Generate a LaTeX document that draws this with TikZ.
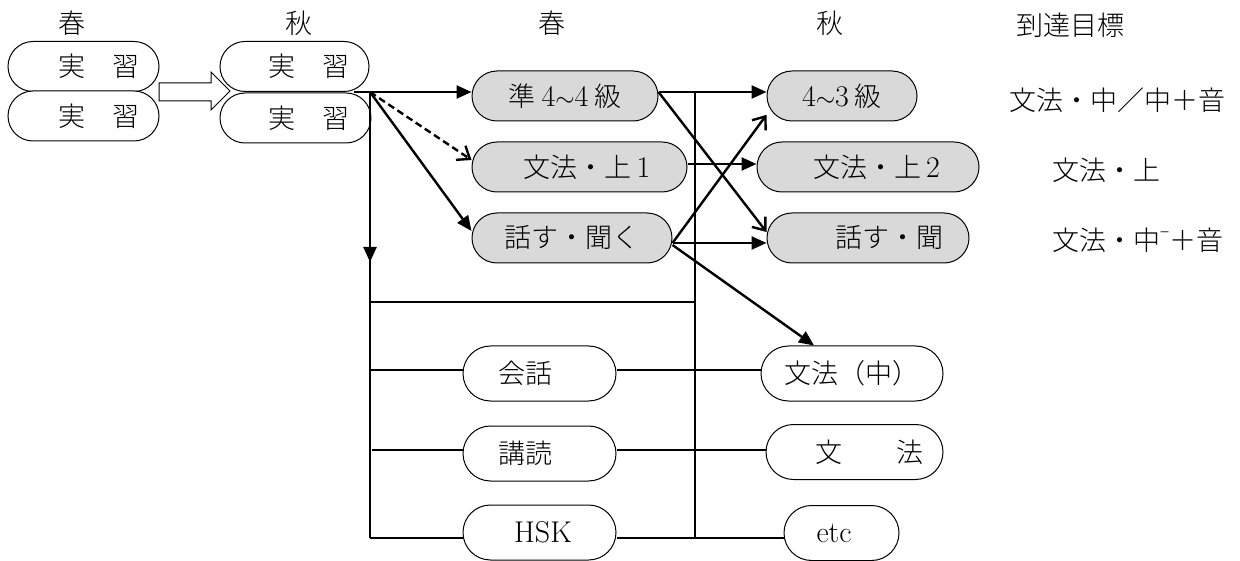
\documentclass[tikz,border=0pt]{standalone}
\usepackage{fontspec}
\newfontfamily\cjk{Noto Sans CJK JP Light}
\newcommand\lat[1]{{\rmfamily\fontsize{30}{30}\selectfont #1}}
\usetikzlibrary{arrows.meta,calc}
\begin{document}
\begin{tikzpicture}[x=1pt,y=-1pt,
  every node/.style={font=\cjk\fontsize{27}{30}\selectfont, inner sep=0pt},
  wbox/.style={draw, line width=1pt, fill=white, rectangle, rounded corners=25pt, minimum height=50pt},
  gbox/.style={wbox, fill=boxgray},
  lbox/.style={draw, line width=1pt, fill=white, rectangle, rounded corners=27.5pt, minimum height=55pt},
  thickln/.style={line width=2.4pt},
  midln/.style={line width=1.6pt},
  filled/.style={-{Triangle[length=15pt,width=13pt]}},
  openhd/.style={-{Straight Barb[length=11pt,width=17pt]}},
  dashln/.style={dash pattern=on 7pt off 4pt}
]
\definecolor{boxgray}{HTML}{D9D9D9}
\useasboundingbox (0,0) rectangle (1240,561);

% headers
\node (h1) at (72,23) {春};
\node (h2) at (299,23) {秋};
\node (h3) at (552,23) {春};
\node (h4) at (830,23) {秋};
\node (h5) at (1070,25) {到達目標};

% spring / autumn practice boxes
\node[wbox, minimum width=151pt] (sp1) at (83.5,66.5) {\hspace*{30pt}実　習};
\node[wbox, minimum width=151pt] (sp2) at (83.5,116) {\hspace*{30pt}実　習};
\node[wbox, minimum width=149pt] (au1) at (294.5,66.5) {\hspace*{28pt}実　習};
\node[wbox, minimum width=151pt] (au2) at (295.5,118) {\hspace*{27pt}実　習};

% block arrow
\draw[line width=1pt, fill=white] (159,83) -- (211,83) -- (211,72) -- (230,91) -- (211,110) -- (211,101) -- (159,101) -- cycle;

% grey boxes
\node[gbox, minimum width=186pt] (jun) at (565,96) {準\hspace{6pt}\lat{4${\sim}$4}\hspace{6pt}級};
\node[gbox, minimum width=215pt] (bun1) at (579.5,167) {\hspace*{15pt}文法・上\hspace{5pt}\lat{1}};
\node[gbox, minimum width=200pt] (hanasu) at (572,238) {話す・聞く};
\node[gbox, minimum width=150pt] (yon) at (842,96) {\lat{4${\sim}$3}\hspace{6pt}級};
\node[gbox, minimum width=222pt] (bun2) at (868,167) {\hspace*{17pt}文法・上\hspace{5pt}\lat{2}};
\node[gbox, minimum width=202pt] (hanasu2) at (868,238) {\hspace*{42pt}話す・聞};

% lower boxes
\node[lbox, minimum width=153pt] (kaiwa) at (539.5,373.5) {会話\hspace*{29pt}};
\node[lbox, minimum width=153pt] (koudoku) at (539.5,453.5) {講読\hspace*{29pt}};
\node[lbox, minimum width=153pt] (hsk) at (539.5,532.5) {\hspace*{7pt}\lat{HSK}};
\node[lbox, minimum width=182pt] (bunchu) at (852,373.5) {文法（中）};
\node[lbox, minimum width=177pt] (bunpo) at (854.5,452) {\hspace*{29pt}文　　法};
\node[lbox, minimum width=115pt] (etcbox) at (841.5,533) {\lat{etc}\hspace*{15pt}};

% goals
\node (g1) at (1117.5,100) {文法・中／中＋音};
\node[anchor=west] (g2) at (1052,170) {文法・上};
\node[anchor=west] (g3) at (1052,240) {文法・中\raisebox{0.45em}{\fontsize{17}{17}\selectfont −}＋音};

% coordinates of bus lines
\coordinate (aust) at (354,92);
\coordinate (br) at (370,92);
\coordinate (bdown) at (370,262);
\coordinate (bbot) at (370,538);
\coordinate (vtop) at (695,93);
\coordinate (vbot) at (695,538);
\coordinate (hl) at (370,302);
\coordinate (hr) at (695,302);
\coordinate (l1) at (370,370);
\coordinate (l2) at (372,450);

% left bus
\draw[thickln] (br) -- (bbot);
\draw[thickln, filled] (br) -- (bdown);
\draw[thickln, filled] (aust) -- (jun.west |- br);
\draw[thickln, dashln, openhd] (br) -- ([yshift=7pt]bun1.west);
\draw[thickln, filled] (br) -- ([yshift=7pt]hanasu.west);

% right thin bus
\draw[midln] (vtop) -- (vbot);
\draw[midln] (hl) -- (hr);

% cross arrows
\draw[thickln, filled] ([yshift=4pt]jun.east) -- ([yshift=4pt]yon.west);
\draw[thickln, openhd] ([yshift=4pt]jun.east) -- ([yshift=6pt]hanasu2.west);
\draw[thickln, filled] ([yshift=3pt]bun1.east) -- ([yshift=3pt]bun2.west);
\draw[thickln, openhd] ([yshift=-5pt]hanasu.east) -- (yon.194);
\draw[thickln, filled] ([yshift=-5pt]hanasu.east) -- ([yshift=-5pt]hanasu2.west);
\draw[thickln, filled] ([yshift=-7pt]hanasu.east) -- ([xshift=-38pt]bunchu.north);

% lower lines
\draw[midln] (l1) -- ([yshift=3.5pt]kaiwa.west);
\draw[midln] ([yshift=3.5pt]kaiwa.east) -- ([yshift=3.5pt]bunchu.west);
\draw[midln] (l2) -- ([yshift=3.5pt]koudoku.west);
\draw[thickln] ([yshift=3.5pt]koudoku.east) -- ([yshift=2pt]bunpo.west);
\draw[midln] (bbot) -- ([yshift=-5.5pt]hsk.west);
\draw[midln] ([yshift=-5.5pt]hsk.east) -- ([yshift=-5pt]etcbox.west);
\end{tikzpicture}
\end{document}
